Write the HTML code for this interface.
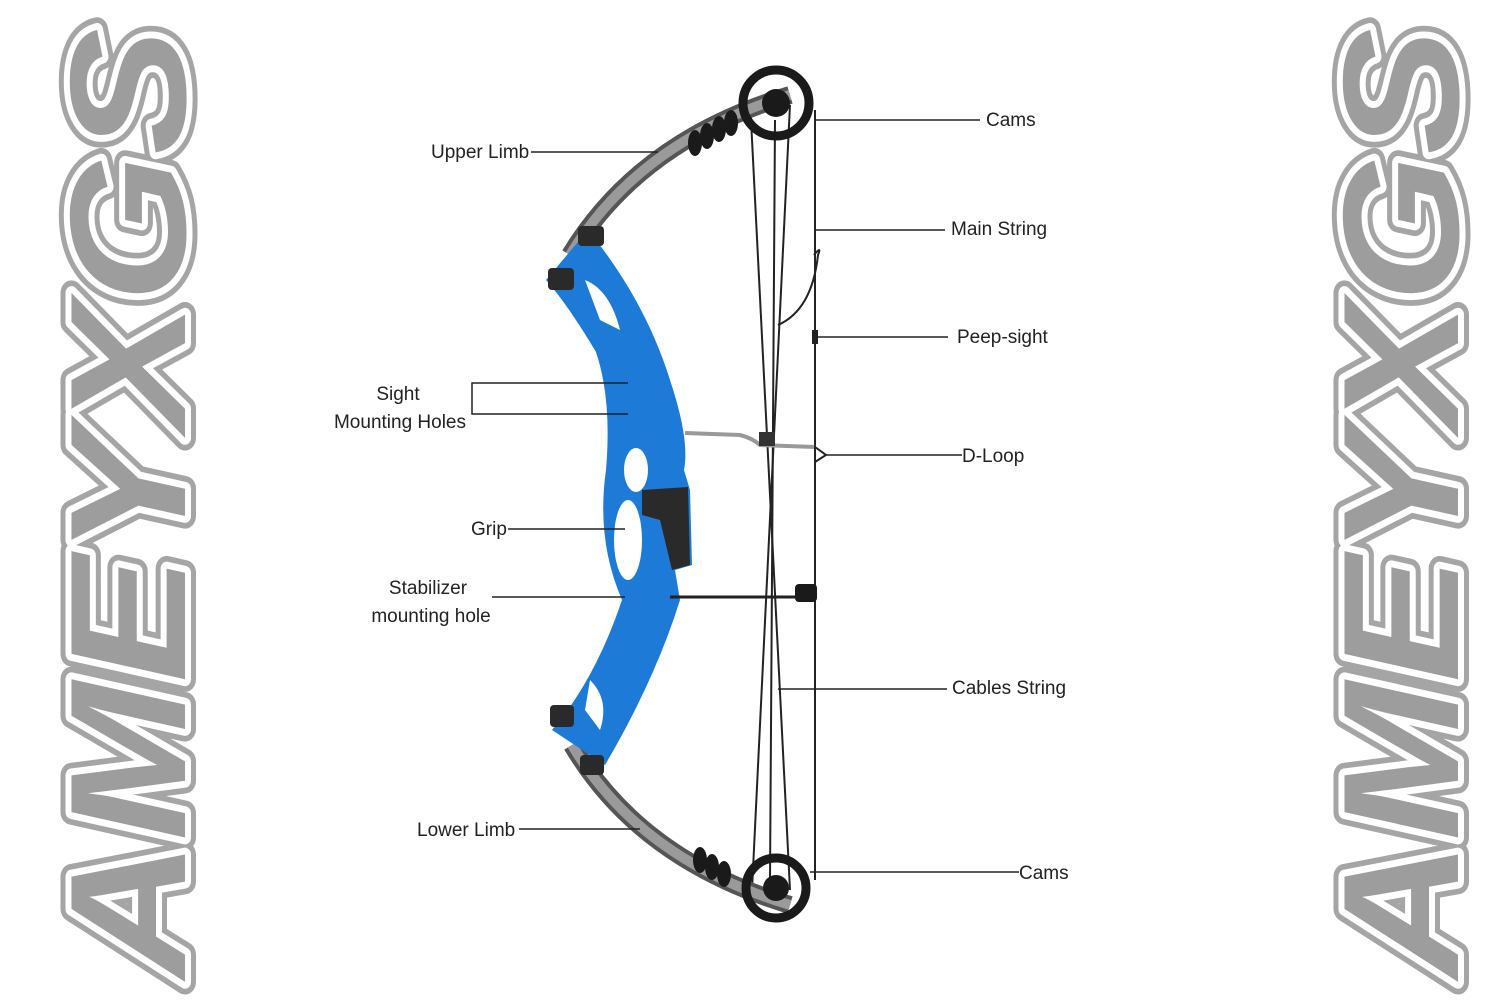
<!DOCTYPE html>
<html><head><meta charset="utf-8"><style>
html,body{margin:0;padding:0;background:#fff;}
svg{display:block}
text.l{font-family:"Liberation Sans",sans-serif;font-size:19px;fill:#222}
</style></head><body>
<svg width="1500" height="1000" viewBox="0 0 1500 1000" xmlns="http://www.w3.org/2000/svg">
<defs>
<g id="wm">
<text x="0" y="0" font-family="Liberation Sans, sans-serif" font-weight="bold" font-style="italic" font-size="165" textLength="950" lengthAdjust="spacingAndGlyphs">AMEYXGS</text>
</g>
</defs>
<g transform="translate(185,978) rotate(-90)">
<use href="#wm" fill="#9d9d9d" stroke="#a5a5a5" stroke-width="22" stroke-linejoin="round"/>
<use href="#wm" fill="#9d9d9d" stroke="#fff" stroke-width="12" stroke-linejoin="round"/>
<use href="#wm" fill="#9d9d9d"/>
</g>
<g transform="translate(1458,978) rotate(-90)">
<use href="#wm" fill="#9d9d9d" stroke="#a5a5a5" stroke-width="22" stroke-linejoin="round"/>
<use href="#wm" fill="#9d9d9d" stroke="#fff" stroke-width="12" stroke-linejoin="round"/>
<use href="#wm" fill="#9d9d9d"/>
</g>

<g stroke="#222" stroke-width="2" fill="none">
<line x1="815" y1="110" x2="815" y2="880"/>
<line x1="750" y1="100" x2="790" y2="890"/>
<line x1="790" y1="105" x2="752" y2="890"/>
<line x1="775" y1="120" x2="770" y2="880"/>
<path d="M778 325 Q812 310 818 255 Q822 245 814 255" />
</g>
<rect x="812" y="330" width="6" height="14" fill="#222"/>
<path d="M570 255 Q640 140 790 95" stroke="#555" stroke-width="18" fill="none"/>
<path d="M570 255 Q640 140 790 95" stroke="#9a9a9a" stroke-width="10" fill="none"/>
<path d="M572 745 Q640 860 790 905" stroke="#555" stroke-width="18" fill="none"/>
<path d="M572 745 Q640 860 790 905" stroke="#9a9a9a" stroke-width="10" fill="none"/>
<g fill="#1a1a1a">
<ellipse cx="695" cy="143" rx="7" ry="13"/><ellipse cx="707" cy="136" rx="7" ry="13"/><ellipse cx="719" cy="129" rx="7" ry="13"/><ellipse cx="731" cy="123" rx="7" ry="13"/>
<ellipse cx="700" cy="860" rx="7" ry="13"/><ellipse cx="712" cy="867" rx="7" ry="13"/><ellipse cx="724" cy="874" rx="7" ry="13"/>
</g>
<circle cx="776" cy="103" r="33" fill="none" stroke="#1a1a1a" stroke-width="9"/>
<circle cx="776" cy="103" r="14" fill="#1a1a1a"/>
<circle cx="776" cy="888" r="30" fill="none" stroke="#1a1a1a" stroke-width="9"/>
<circle cx="776" cy="888" r="13" fill="#1a1a1a"/>
<path d="M588 230 Q645 300 670 380 Q690 440 684 470 L690 490 L692 565 L675 570 L680 600 Q655 680 605 765 L552 730 Q595 680 622 600 Q596 540 606 470 Q612 400 596 352 Q568 305 546 280 Z" fill="#1d7ad6"/>
<path d="M585 280 Q610 290 620 330 L600 320 Z" fill="#fff"/>
<ellipse cx="636" cy="470" rx="12" ry="22" fill="#fff"/>
<ellipse cx="628" cy="540" rx="14" ry="40" fill="#fff"/>
<path d="M590 680 Q610 700 600 730 L585 710 Z" fill="#fff"/>
<path d="M642 490 L688 487 L690 565 L672 570 L660 520 L642 515 Z" fill="#2a2a2a"/>
<rect x="578" y="226" width="26" height="20" rx="4" fill="#2a2a2a"/>
<rect x="548" y="268" width="26" height="22" rx="4" fill="#2a2a2a"/>
<rect x="550" y="705" width="24" height="22" rx="4" fill="#2a2a2a"/>
<rect x="580" y="755" width="24" height="20" rx="4" fill="#2a2a2a"/>
<path d="M685 433 L740 435 Q752 438 760 445 L815 447" stroke="#999" stroke-width="4" fill="none"/>
<rect x="759" y="432" width="16" height="14" fill="#333"/>
<line x1="670" y1="597" x2="800" y2="597" stroke="#222" stroke-width="3"/>
<rect x="795" y="584" width="22" height="18" rx="4" fill="#1a1a1a"/>
<path d="M815 447 L826 455 L815 462 Z" fill="none" stroke="#222" stroke-width="2"/>

<g stroke="#222" stroke-width="1.5" fill="none">
<line x1="531" y1="152" x2="658" y2="152"/>
<line x1="815" y1="120" x2="980" y2="120"/>
<line x1="815" y1="230" x2="945" y2="230"/>
<line x1="818" y1="337" x2="948" y2="337"/>
<line x1="825" y1="455" x2="962" y2="455"/>
<path d="M628 383 L472 383 L472 414 L628 414"/>
<line x1="508" y1="529" x2="625" y2="529"/>
<line x1="492" y1="597" x2="625" y2="597"/>
<line x1="778" y1="689" x2="947" y2="689"/>
<line x1="519" y1="829" x2="640" y2="829"/>
<line x1="810" y1="872" x2="1019" y2="872"/>
</g>
<text class="l" x="431" y="158">Upper Limb</text>
<text class="l" x="986" y="126">Cams</text>
<text class="l" x="951" y="235">Main String</text>
<text class="l" x="957" y="343">Peep-sight</text>
<text class="l" x="962" y="462">D-Loop</text>
<text class="l" x="398" y="400" text-anchor="middle">Sight</text>
<text class="l" x="400" y="428" text-anchor="middle">Mounting Holes</text>
<text class="l" x="471" y="535">Grip</text>
<text class="l" x="428" y="594" text-anchor="middle">Stabilizer</text>
<text class="l" x="431" y="622" text-anchor="middle">mounting hole</text>
<text class="l" x="952" y="694">Cables String</text>
<text class="l" x="417" y="836">Lower Limb</text>
<text class="l" x="1019" y="879">Cams</text>
</svg>
</body></html>
